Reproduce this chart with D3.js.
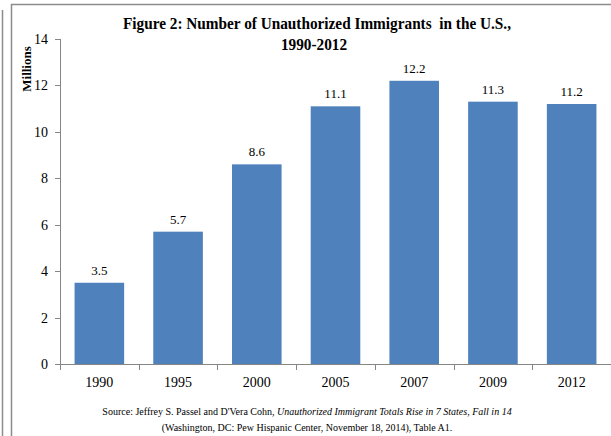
<!DOCTYPE html>
<html><head><meta charset="utf-8">
<script src="https://cdn.jsdelivr.net/npm/d3@7"></script>
<style>body{margin:0;background:#fff}svg{display:block}</style>
</head><body>
<script>
const categories = ["1990","1995","2000","2005","2007","2009","2012"];
const values = [3.5, 5.7, 8.6, 11.1, 12.2, 11.3, 11.2];
const valueLabels = ["3.5","5.7","8.6","11.1","12.2","11.3","11.2"];
const yTicks = [0,2,4,6,8,10,12,14];

const FONT = "'Liberation Serif', 'Times New Roman', serif";
const W = 611, H = 436;
const svg = d3.select("body").append("svg").attr("width", W).attr("height", H).attr("font-family", FONT);

// frames
svg.append("line").attr("x1",2.5).attr("x2",2.5).attr("y1",10).attr("y2",H).attr("stroke","#8c8c8c").attr("stroke-width",1.5);
svg.append("path").attr("d",`M11.5,${H} V4.5 H${W}`).attr("fill","none").attr("stroke","#8c8c8c").attr("stroke-width",1.5);

const x = d3.scaleBand().domain(categories).range([60, 611]).paddingInner(0.37).paddingOuter(0.185);
const y = d3.scaleLinear().domain([0,14]).range([364, 39]);

// bars
svg.selectAll("rect.bar").data(values).enter().append("rect")
  .attr("x",(d,i)=>x(categories[i])).attr("width",x.bandwidth())
  .attr("y",d=>y(d)).attr("height",d=>y(0)-y(d)).attr("fill","#4F81BD");

// value labels
svg.selectAll("text.val").data(values).enter().append("text")
  .attr("font-family",FONT)
  .attr("x",(d,i)=>x(categories[i])+x.bandwidth()/2).attr("y",d=>y(d)-8)
  .attr("text-anchor","middle").attr("font-size",13).attr("fill","#000")
  .text((d,i)=>valueLabels[i]);

// y axis
const axisColor = "#868686";
svg.append("line").attr("x1",60.5).attr("x2",60.5).attr("y1",y(14)).attr("y2",y(0)).attr("stroke",axisColor);
yTicks.forEach(t=>{
  svg.append("line").attr("x1",55).attr("x2",60.5).attr("y1",Math.round(y(t))+0.5).attr("y2",Math.round(y(t))+0.5).attr("stroke",axisColor);
  svg.append("text").attr("font-family",FONT).attr("x",48).attr("y",y(t)+5).attr("text-anchor","end").attr("font-size",14).text(t);
});

// x axis
svg.append("line").attr("x1",60).attr("x2",611).attr("y1",364.5).attr("y2",364.5).attr("stroke",axisColor);
const step = x.step();
d3.range(categories.length+1).forEach(i=>{
  const xx = Math.round(60 + i*step)+0.5;
  svg.append("line").attr("x1",xx).attr("x2",xx).attr("y1",364.5).attr("y2",370).attr("stroke",axisColor);
});
svg.selectAll("text.cat").data(categories).enter().append("text").attr("font-family",FONT)
  .attr("x",d=>x(d)+x.bandwidth()/2).attr("y",387).attr("text-anchor","middle").attr("font-size",14).text(d=>d);

// title (slightly condensed like the original)
const t1 = svg.append("text").attr("font-family",FONT).attr("x",317).attr("y",29).attr("text-anchor","middle").attr("font-size",16.5).attr("font-weight","bold")
  .style("white-space","pre").text("Figure 2: Number of Unauthorized Immigrants  in the U.S.,");
const t2 = svg.append("text").attr("font-family",FONT).attr("x",314).attr("y",50).attr("text-anchor","middle").attr("font-size",16.5).attr("font-weight","bold").text("1990-2012");
const n1 = t1.node().getComputedTextLength();
const k = 388 / n1;
t1.attr("textLength", 388).attr("lengthAdjust","spacingAndGlyphs");
t2.attr("textLength", t2.node().getComputedTextLength()*k).attr("lengthAdjust","spacingAndGlyphs");

// y label
svg.append("text").attr("font-family",FONT).attr("transform","translate(31,69) rotate(-90)").attr("text-anchor","middle").attr("font-size",13).attr("font-weight","bold").text("Millions");

// source
const s1 = svg.append("text").attr("font-family",FONT).attr("x",307).attr("y",415).attr("text-anchor","middle").attr("font-size",10);
s1.append("tspan").text("Source: Jeffrey S. Passel and D'Vera Cohn, ");
s1.append("tspan").attr("font-style","italic").text("Unauthorized Immigrant Totals Rise in 7 States, Fall in 14");
svg.append("text").attr("font-family",FONT).attr("x",307).attr("y",431).attr("text-anchor","middle").attr("font-size",10)
  .text("(Washington, DC: Pew Hispanic Center, November 18, 2014), Table A1.");
</script>
</body></html>
